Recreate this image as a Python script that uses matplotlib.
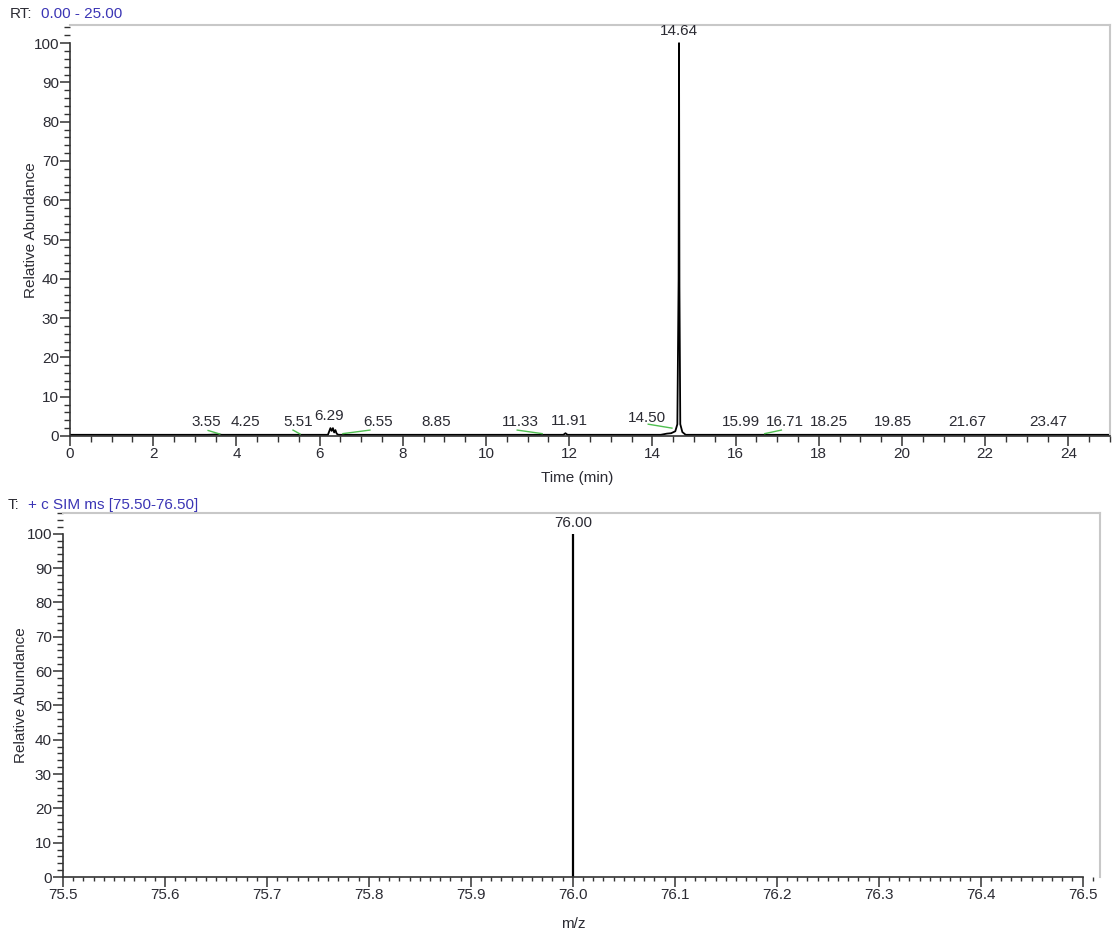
import matplotlib
matplotlib.use('Agg')
import matplotlib.pyplot as plt
from matplotlib.ticker import MultipleLocator
import numpy as np

plt.rcParams['font.family'] = ['Liberation Sans', 'DejaVu Sans']

# chromatogram trace (RT in min, relative abundance)
rt = [0.00, 3.30, 3.45, 3.55, 3.65, 4.25, 5.51, 6.20, 6.26, 6.29, 6.32, 6.35,
      6.38, 6.41, 6.45, 6.55, 8.85, 11.33, 11.86, 11.91, 11.96, 14.20, 14.35,
      14.45, 14.55, 14.60, 14.63, 14.64, 14.65, 14.67, 14.72, 14.80, 25.00]
abund = [0.3, 0.3, 0.35, 0.4, 0.3, 0.3, 0.3, 0.3, 2.0, 1.3, 2.0, 0.9,
         1.5, 0.6, 0.3, 0.3, 0.3, 0.3, 0.3, 0.7, 0.3, 0.3, 0.6,
         0.7, 1.2, 3.0, 40.0, 100.0, 38.0, 3.0, 1.0, 0.3, 0.3]

# labelled peaks
peak_rt = [3.55, 4.25, 5.51, 6.29, 6.55, 8.85, 11.33, 11.91, 14.50, 14.64,
           15.99, 16.71, 18.25, 19.85, 21.67, 23.47]
peak_top = [0.4, 0.3, 0.3, 2.0, 0.4, 0.3, 0.3, 0.5, 1.4, 100.0,
            0.3, 0.3, 0.3, 0.3, 0.3, 0.3]

# green integration marks
g_rt0 = [3.32, 5.36, 6.56, 10.75, 13.90, 16.70]
g_ab0 = [1.4, 1.5, 0.6, 1.5, 3.0, 0.6]
g_rt1 = [3.60, 5.53, 7.21, 11.35, 14.47, 17.10]
g_ab1 = [0.5, 0.5, 1.5, 0.6, 2.0, 1.5]

# SIM spectrum
mz = [76.00]
inten = [100.0]

# label shifts (pixels) so labels do not collide, as in the instrument output
label_dx = [-11, -1, -1, -3, 36, -2, -21, 4, -26, 0, 6, 20, 0, -3, -4, 2]

fig = plt.figure(figsize=(11.13, 9.38), dpi=100)
txt = '#2b2b33'
blue = '#3b35b5'
fs = 11


def style(ax):
    for s in ['top', 'right']:
        ax.spines[s].set_color('#c8c8c8')
        ax.spines[s].set_linewidth(1.5)
    for s in ['left', 'bottom']:
        ax.spines[s].set_color('#333333')
        ax.spines[s].set_linewidth(1.2)
    ax.yaxis.set_major_locator(MultipleLocator(10))
    ax.yaxis.set_minor_locator(MultipleLocator(2))
    ax.tick_params(which='major', length=7, width=1.1, colors='#333333',
                   labelsize=fs, labelcolor=txt, pad=1)
    ax.tick_params(which='minor', length=4, width=1.0, colors='#333333')
    ax.set_ylabel('Relative Abundance', fontsize=fs, color=txt)


# top: chromatogram
ax1 = fig.add_axes([0.0629, 0.5352, 0.9344, 0.4381])
style(ax1)
ax1.plot(rt, abund, color='black', lw=1.3)
for a, b, c, d in zip(g_rt0, g_ab0, g_rt1, g_ab1):
    ax1.plot([a, c], [b, d], color='#4fbf4f', lw=1.0)
for r, h, dx in zip(peak_rt, peak_top, label_dx):
    ax1.annotate(f'{r:.2f}', (r, h), xytext=(dx * 0.72, 4),
                 textcoords='offset points', ha='center', va='bottom',
                 fontsize=fs, color=txt)
ax1.set_xlim(0, 25)
ax1.set_ylim(0, 104.6)
ax1.spines['bottom'].set_bounds(0, 25)
ax1.spines['left'].set_bounds(0, 100)
ax1.xaxis.set_major_locator(MultipleLocator(2))
ax1.xaxis.set_minor_locator(MultipleLocator(0.5))
ax1.set_yticks(range(0, 101, 10))
ax1.set_xlabel('Time (min)', fontsize=fs, color=txt)
ax1.xaxis.set_label_coords(0.4875, -0.085)
ax1.yaxis.set_label_coords(-0.031, 0.5)

fig.text(0.009, 0.985, 'RT:', fontsize=fs, color=txt, va='center')
fig.text(0.037, 0.985, '0.00 - 25.00', fontsize=fs, color=blue, va='center')

# bottom: SIM spectrum
ax2 = fig.add_axes([0.0566, 0.065, 0.9317, 0.388])
style(ax2)
ax2.vlines(mz, 0, inten, color='black', lw=1.6)
for m, i in zip(mz, inten):
    ax2.annotate(f'{m:.2f}', (m, i), xytext=(0, 3), textcoords='offset points',
                 ha='center', va='bottom', fontsize=fs, color=txt)
ax2.set_xlim(75.5, 76.517)
ax2.set_ylim(0, 106)
ax2.spines['bottom'].set_bounds(75.5, 76.5)
ax2.spines['left'].set_bounds(0, 100)
ax2.xaxis.set_minor_locator(MultipleLocator(0.01))
ax2.tick_params(axis='x', which='minor', length=3)
ax2.set_xticks(np.arange(75.5, 76.55, 0.1))
ax2.set_xticklabels([f'{v:.1f}' for v in np.arange(75.5, 76.55, 0.1)])
ax2.set_yticks(range(0, 101, 10))
ax2.set_xlabel('m/z', fontsize=fs, color=txt)
ax2.xaxis.set_label_coords(0.492, -0.11)
ax2.yaxis.set_label_coords(-0.034, 0.5)

fig.text(0.007, 0.462, 'T:', fontsize=fs, color=txt, va='center')
fig.text(0.025, 0.462, '+ c SIM ms [75.50-76.50]', fontsize=fs, color=blue,
         va='center')

fig.savefig('out.png', dpi=100)
